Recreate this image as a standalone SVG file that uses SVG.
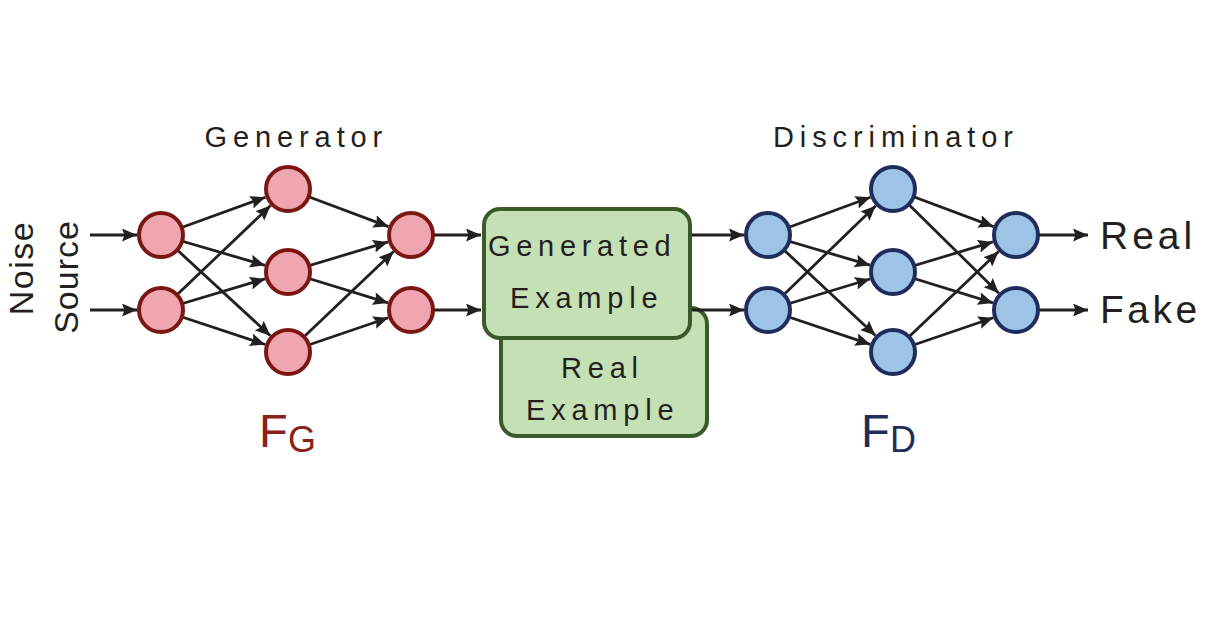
<svg xmlns="http://www.w3.org/2000/svg" width="1208" height="644" viewBox="0 0 1208 644">
<defs>
<marker id="ah" markerUnits="userSpaceOnUse" markerWidth="16" markerHeight="14" refX="15" refY="6.5" orient="auto">
<path d="M0,0 L15,6.5 L0,13 L2.5,6.5 z" fill="#231f20"/>
</marker>
<style>
.t{font-family:"Liberation Sans",Arial,sans-serif;fill:#231f20}
.c line{stroke:#231f20;stroke-width:2.8;marker-end:url(#ah)}
.g circle{fill:#f0a6b0;stroke:#7a1712;stroke-width:4}
.d circle{fill:#9dc3e6;stroke:#1f2d5c;stroke-width:4}
.box{fill:#c5e0b4;stroke:#3a5a2a;stroke-width:4}
</style>
</defs>
<rect width="1208" height="644" fill="#ffffff"/>

<g id="noise-source">
<text class="t" font-size="34" letter-spacing="1.5" text-anchor="middle" transform="translate(33,268) rotate(-90)">Noise</text>
<text class="t" font-size="34" letter-spacing="1" text-anchor="middle" transform="translate(78,277) rotate(-90)">Source</text>
</g>

<g id="title-generator"><text class="t" x="204.5" y="147" font-size="29" letter-spacing="5.9">Generator</text></g>
<g id="title-discriminator"><text class="t" x="773" y="147" font-size="29" letter-spacing="5.9">Discriminator</text></g>

<g id="real-example">
<rect class="box" x="501" y="308" width="206" height="128" rx="16"/>
<text class="t" x="561" y="378" font-size="29" letter-spacing="5.8">Real</text>
<text class="t" x="526" y="420" font-size="29" letter-spacing="5.8">Example</text>
</g>

<g id="connectors" class="c">
<line x1="90" y1="235" x2="137" y2="235"/>
<line x1="90" y1="310" x2="137" y2="310"/>
<line x1="161" y1="235" x2="265.4" y2="197.2"/>
<line x1="161" y1="235" x2="264.96" y2="265.29"/>
<line x1="161" y1="235" x2="270.35" y2="335.74"/>
<line x1="161" y1="310" x2="270.62" y2="205.56"/>
<line x1="161" y1="310" x2="265.01" y2="278.88"/>
<line x1="161" y1="310" x2="265.21" y2="344.46"/>
<line x1="288" y1="189" x2="388.52" y2="226.59"/>
<line x1="288" y1="272" x2="388.02" y2="241.91"/>
<line x1="288" y1="272" x2="388.07" y2="302.92"/>
<line x1="288" y1="352" x2="393.61" y2="251.54"/>
<line x1="288" y1="352" x2="388.29" y2="317.76"/>
<line x1="411" y1="235" x2="481" y2="235"/>
<line x1="411" y1="310" x2="481" y2="310"/>
<line x1="680" y1="235" x2="744" y2="235"/>
<line x1="680" y1="310" x2="744" y2="310"/>
<line x1="768" y1="235" x2="870.48" y2="197.29"/>
<line x1="768" y1="235" x2="869.99" y2="265.19"/>
<line x1="768" y1="235" x2="875.48" y2="335.6"/>
<line x1="768" y1="310" x2="875.76" y2="205.69"/>
<line x1="768" y1="310" x2="870.04" y2="278.98"/>
<line x1="768" y1="310" x2="870.25" y2="344.36"/>
<line x1="893" y1="189" x2="993.52" y2="226.59"/>
<line x1="893" y1="189" x2="998.89" y2="293.17"/>
<line x1="893" y1="272" x2="993.02" y2="241.91"/>
<line x1="893" y1="272" x2="993.07" y2="302.92"/>
<line x1="893" y1="352" x2="998.61" y2="251.54"/>
<line x1="893" y1="352" x2="993.29" y2="317.76"/>
<line x1="1016" y1="235" x2="1088" y2="235"/>
<line x1="1016" y1="310" x2="1088" y2="310"/>
</g>

<g id="generated-example">
<rect class="box" x="484" y="209" width="206" height="129" rx="16"/>
<text class="t" x="488" y="256" font-size="29" letter-spacing="5.7">Generated</text>
<text class="t" x="510" y="308" font-size="29" letter-spacing="5.8">Example</text>
</g>

<g class="g">
<g id="g1a"><circle cx="161" cy="235" r="22"/></g>
<g id="g1b"><circle cx="161" cy="310" r="22"/></g>
<g id="g2a"><circle cx="288" cy="189" r="22"/></g>
<g id="g2b"><circle cx="288" cy="272" r="22"/></g>
<g id="g2c"><circle cx="288" cy="352" r="22"/></g>
<g id="g3a"><circle cx="411" cy="235" r="22"/></g>
<g id="g3b"><circle cx="411" cy="310" r="22"/></g>
</g>

<g class="d">
<g id="d1a"><circle cx="768" cy="235" r="22"/></g>
<g id="d1b"><circle cx="768" cy="310" r="22"/></g>
<g id="d2a"><circle cx="893" cy="189" r="22"/></g>
<g id="d2b"><circle cx="893" cy="272" r="22"/></g>
<g id="d2c"><circle cx="893" cy="352" r="22"/></g>
<g id="d3a"><circle cx="1016" cy="235" r="22"/></g>
<g id="d3b"><circle cx="1016" cy="310" r="22"/></g>
</g>

<g id="out-real"><text class="t" x="1100" y="249" font-size="39" letter-spacing="4">Real</text></g>
<g id="out-fake"><text class="t" x="1100" y="323" font-size="39" letter-spacing="3.5">Fake</text></g>

<g id="label-fg">
<text x="259" y="447" font-family="Liberation Sans, Arial, sans-serif" font-size="47" fill="#8a2119">F</text>
<text x="288" y="452" font-family="Liberation Sans, Arial, sans-serif" font-size="36" fill="#8a2119">G</text>
</g>
<g id="label-fd">
<text x="861" y="447" font-family="Liberation Sans, Arial, sans-serif" font-size="47" fill="#1f2d5c">F</text>
<text x="890" y="452" font-family="Liberation Sans, Arial, sans-serif" font-size="36" fill="#1f2d5c">D</text>
</g>
</svg>
